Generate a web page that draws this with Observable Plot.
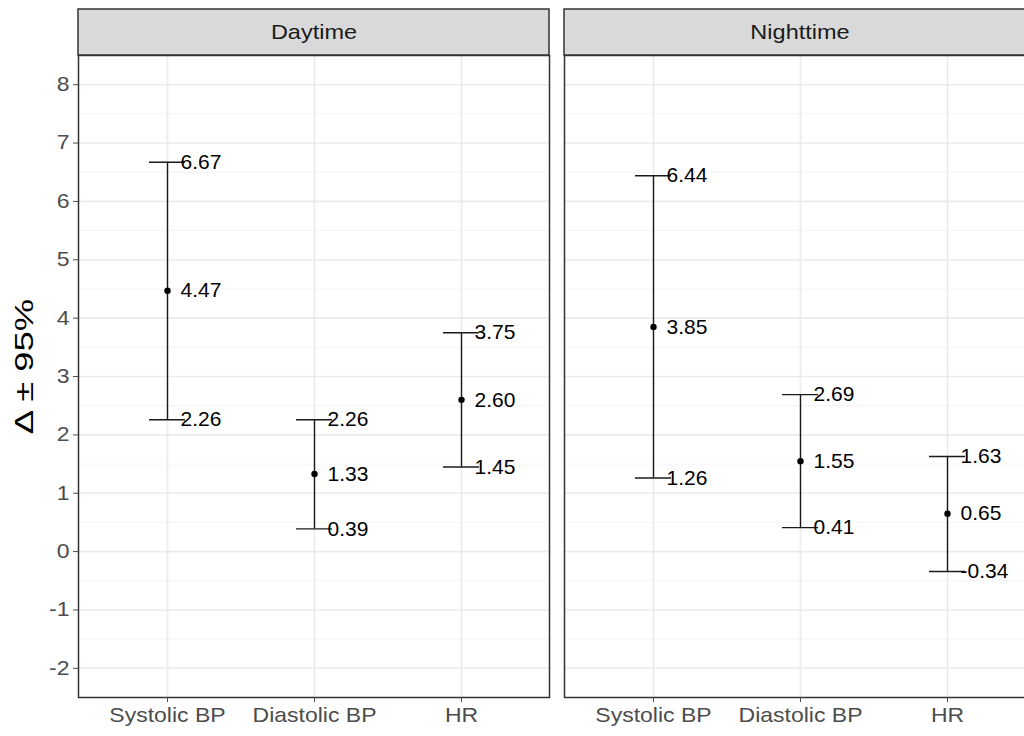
<!DOCTYPE html>
<html>
<head>
<meta charset="utf-8">
<script src="https://cdn.jsdelivr.net/npm/d3@7"></script>
<script src="https://cdn.jsdelivr.net/npm/@observablehq/plot@0.6"></script>
<style>
  html, body { margin: 0; padding: 0; background: #fff; overflow: hidden; }
  #chart { width: 1024px; height: 736px; overflow: hidden; }
  #chart svg { max-width: none !important; font-family: "Liberation Sans", Arial, sans-serif; }
</style>
</head>
<body>
<div id="chart"></div>
<script>
// ---- data ----
const periods = ["Daytime", "Nighttime"];
const categories = ["Systolic BP", "Diastolic BP", "HR"];
const meanDay = [4.47, 1.33, 2.60];
const lowDay = [2.26, 0.39, 1.45];
const highDay = [6.67, 2.26, 3.75];
const meanNight = [3.85, 1.55, 0.65];
const lowNight = [1.26, 0.41, -0.34];
const highNight = [6.44, 2.69, 1.63];
const yTicks = [-2, -1, 0, 1, 2, 3, 4, 5, 6, 7, 8];
const yMinor = [-2.5, -1.5, -0.5, 0.5, 1.5, 2.5, 3.5, 4.5, 5.5, 6.5, 7.5, 8.5];
const yLabel = "Δ ± 95%";

// ---- table ----
const rows = [];
categories.forEach((c, i) => {
  rows.push({period: periods[0], cat: c, mean: meanDay[i], lo: lowDay[i], hi: highDay[i]});
});
categories.forEach((c, i) => {
  rows.push({period: periods[1], cat: c, mean: meanNight[i], lo: lowNight[i], hi: highNight[i]});
});
const labels = rows.flatMap(d => [
  {period: d.period, cat: d.cat, v: d.hi},
  {period: d.period, cat: d.cat, v: d.mean},
  {period: d.period, cat: d.cat, v: d.lo}
]);

const yDomain = [-2.5, 8.5];
const marginTop = 55, marginBottom = 39, height = 736;
const pxPerUnit = (height - marginTop - marginBottom) / (yDomain[1] - yDomain[0]);
const stripTop = yDomain[1] + 46 / pxPerUnit;
const stripMid = yDomain[1] + 23 / pxPerUnit;
const strips = periods.map(p => ({period: p}));

const chart = Plot.plot({
  width: 1035,
  height,
  marginTop,
  marginBottom,
  marginLeft: 77,
  marginRight: 0,
  style: {fontFamily: '"Liberation Sans", Arial, sans-serif', background: "#fff"},
  fx: {domain: periods, axis: null, paddingInner: 0.0309, paddingOuter: 0},
  x: {domain: categories, type: "point", padding: 0.6, axis: null},
  y: {domain: yDomain, axis: null},
  marks: [
    // grids
    Plot.ruleY(yMinor, {stroke: "#f4f4f4", strokeWidth: 1}),
    Plot.ruleY(yTicks, {stroke: "#ebebeb", strokeWidth: 1.6}),
    Plot.ruleX(categories, {x: d => d, stroke: "#ebebeb", strokeWidth: 1.6}),
    // error bars
    Plot.ruleX(rows, {fx: "period", x: "cat", y1: "lo", y2: "hi", stroke: "#1a1a1a", strokeWidth: 1.4}),
    Plot.ruleY(rows, {fx: "period", x1: "cat", x2: "cat", y: "hi", insetLeft: -18, insetRight: -18, stroke: "#1a1a1a", strokeWidth: 1.4}),
    Plot.ruleY(rows, {fx: "period", x1: "cat", x2: "cat", y: "lo", insetLeft: -18, insetRight: -18, stroke: "#1a1a1a", strokeWidth: 1.4}),
    Plot.dot(rows, {fx: "period", x: "cat", y: "mean", r: 3.2, fill: "#000", stroke: "none"}),
    Plot.text(labels, {fx: "period", x: "cat", y: "v", text: d => d.v.toFixed(2), textAnchor: "start", dx: 13, fontSize: 21, fill: "#000"}),
    // panel border
    Plot.frame({stroke: "#333", strokeWidth: 1.5}),
    // strips
    Plot.rect(strips, {fx: "period", y1: yDomain[1], y2: stripTop, fill: "#d9d9d9", stroke: "#333", strokeWidth: 1.5}),
    Plot.text(strips, {fx: "period", y: stripMid, text: "period", fontSize: 21, fill: "#1a1a1a", ariaLabel: () => "strip-label"}),
    // axes
    Plot.axisY({ticks: yTicks, tickSize: 5, tickPadding: 4, fontSize: 20, color: "#4d4d4d", label: null, tickFormat: d => String(d).replace("−", "-")}),
    Plot.axisX({tickSize: 5, tickPadding: 5, fontSize: 20, color: "#4d4d4d", label: null}),
    Plot.text([{period: periods[0]}], {fx: "period", frameAnchor: "left", textAnchor: "middle", lineAnchor: "bottom", dx: -46, dy: -10, rotate: -90, text: () => yLabel, fontSize: 26, fill: "#000", ariaLabel: () => "y-title"})
  ]
});
document.getElementById("chart").appendChild(chart);

// widen glyphs horizontally like the reference raster
function stretch(selector, sx) {
  d3.select(chart).selectAll(selector).each(function () {
    const t = d3.select(this);
    let tr = t.attr("transform");
    if (!tr) {
      const x = t.attr("x"), y = t.attr("y");
      const xn = x != null && !isNaN(+x) ? +x : 0;
      const yn = y != null && !isNaN(+y) ? +y : 0;
      tr = `translate(${xn},${yn})`;
      if (x != null && !isNaN(+x)) t.attr("x", null);
      if (y != null && !isNaN(+y)) t.attr("y", null);
    }
    t.attr("transform", `${tr} scale(${sx},1)`);
  });
}
stretch('g[aria-label="y-axis tick label"] text', 1.15);
stretch('g[aria-label="x-axis tick label"] text', 1.15);
stretch('text[aria-label="strip-label"]', 1.12);
stretch('text[aria-label="y-title"]', 1.4);
</script>
</body>
</html>
